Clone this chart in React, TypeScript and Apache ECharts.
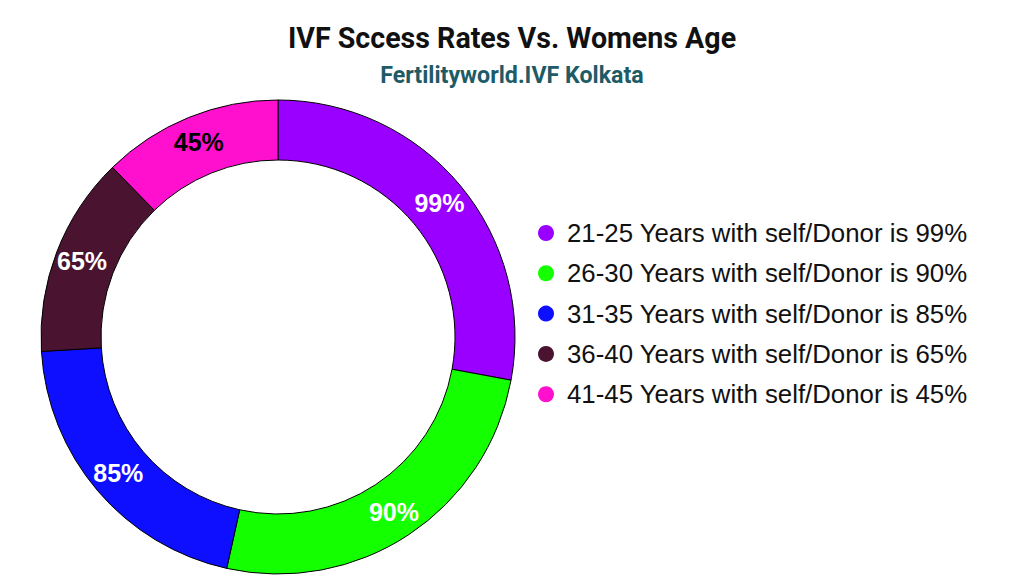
import React, { useEffect, useRef } from "react";
import * as echarts from "echarts";

const titleText = "IVF Sccess Rates Vs. Womens Age";
const subtitleText = "Fertilityworld.IVF Kolkata";
const categories = [
  "21-25 Years with self/Donor is 99%",
  "26-30 Years with self/Donor is 90%",
  "31-35 Years with self/Donor is 85%",
  "36-40 Years with self/Donor is 65%",
  "41-45 Years with self/Donor is 45%",
];
// slice sizes as drawn in the picture (angular share)
const sliceValues = [100.5, 92, 74, 49.2, 44.3];
const sliceLabels = ["99%", "90%", "85%", "65%", "45%"];
const colors = ["#9900ff", "#14ff00", "#0f0fff", "#4a1430", "#ff10cf"];
const labelColors = ["#ffffff", "#ffffff", "#ffffff", "#ffffff", "#000000"];

export default function App() {
  const ref = useRef<HTMLDivElement>(null);
  useEffect(() => {
    if (!ref.current) return;
    const chart = echarts.init(ref.current, undefined, { renderer: "svg" });
    chart.setOption({
      animation: false,
      backgroundColor: "#ffffff",
      title: [
        {
          text: titleText,
          left: "center",
          top: 23,
          padding: 0,
          textStyle: { fontFamily: "Roboto", fontWeight: "bold", fontSize: 28.6, color: "#111111" },
        },
        {
          text: subtitleText,
          left: "center",
          top: 63,
          padding: 0,
          textStyle: { fontFamily: "Roboto", fontWeight: "bold", fontSize: 23.2, color: "#1e5b66" },
        },
      ],
      legend: {
        orient: "vertical",
        left: 538,
        top: 220,
        icon: "circle",
        itemWidth: 16,
        itemHeight: 16,
        itemGap: 14.3,
        padding: 0,
        data: categories,
        itemStyle: { borderWidth: 0 },
        textStyle: {
          fontFamily: "Liberation Sans, Arial",
          fontSize: 25.8,
          lineHeight: 26,
          color: "#111111",
          padding: [0, 0, 0, 8],
        },
      },
      series: [
        {
          type: "pie",
          center: [278, 337],
          radius: [177, 237],
          startAngle: 90,
          clockwise: true,
          itemStyle: { borderColor: "#000000", borderWidth: 1 },
          label: {
            show: true,
            position: "inside",
            fontFamily: "Liberation Sans, Arial",
            fontWeight: "bold",
            fontSize: 25,
            formatter: (p: any) => sliceLabels[p.dataIndex],
          },
          labelLine: { show: false },
          emphasis: { disabled: true },
          data: categories.map((name, i) => ({
            name,
            value: sliceValues[i],
            itemStyle: { color: colors[i] },
            label: { color: labelColors[i] },
          })),
        },
      ],
    });
    return () => chart.dispose();
  }, []);
  return (
    <div
      ref={ref}
      style={{ position: "fixed", left: 0, top: 0, width: 1024, height: 582 }}
    />
  );
}
